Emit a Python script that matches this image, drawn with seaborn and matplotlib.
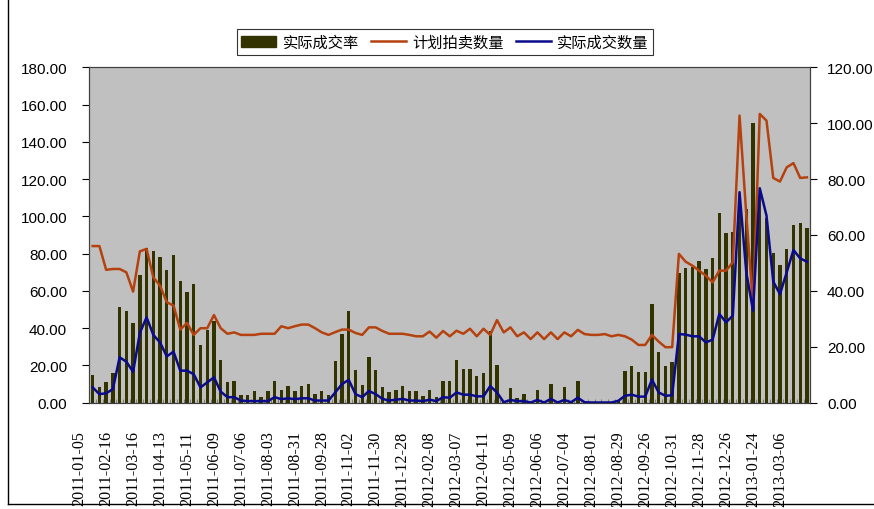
import matplotlib
matplotlib.use("Agg")
import matplotlib.pyplot as plt
import matplotlib.transforms as mtransforms
from matplotlib.lines import Line2D
from matplotlib.patches import Patch
import numpy as np
import pandas as pd
import seaborn as sns

# weekly auction sessions (category axis, one label every 4 sessions)
week_idx = list(range(107))

date_labels = [
    "2011-01-05", "2011-02-16", "2011-03-16", "2011-04-13", "2011-05-11",
    "2011-06-09", "2011-07-06", "2011-08-03", "2011-08-31", "2011-09-28",
    "2011-11-02", "2011-11-30", "2011-12-28", "2012-02-08", "2012-03-07",
    "2012-04-11", "2012-05-09", "2012-06-06", "2012-07-04", "2012-08-01",
    "2012-08-29", "2012-09-26", "2012-10-31", "2012-11-28", "2012-12-26",
    "2013-01-24", "2013-03-06",
]

# 实际成交率 (left axis)
actual_rate = [
    14.8, 8.2, 11.2, 15.8, 51.3, 49.1, 42.7, 68.5, 82.8, 81.4,
    78.1, 71.2, 79.2, 65.3, 59.3, 63.6, 30.9, 39.1, 43.8, 22.8,
    11.2, 11.5, 4.0, 4.0, 6.2, 3.0, 6.2, 11.5, 6.7, 8.9,
    6.2, 8.9, 9.9, 4.6, 6.2, 4.0, 22.3, 36.8, 49.1, 17.5,
    9.4, 24.4, 17.5, 8.3, 5.6, 6.7, 8.9, 6.2, 6.2, 3.5,
    6.7, 3.0, 11.5, 11.5, 22.8, 18.0, 18.0, 14.2, 15.8, 38.4,
    20.1, 0.5, 7.8, 2.4, 4.6, 0.3, 6.7, 0.3, 9.9, 0.3,
    8.3, 0.5, 11.5, 0.3, 0.0, 0.0, 0.0, 0.0, 1.0, 16.9,
    19.6, 16.4, 16.4, 52.9, 27.1, 19.6, 21.8, 69.6, 72.2, 72.8,
    76.0, 71.7, 77.6, 101.8, 91.0, 91.6, 110.0, 103.9, 150.1, 111.0,
    99.1, 80.3, 73.8, 82.4, 95.3, 96.4, 93.7,
]

# 计划拍卖数量 (right axis)
planned_qty = [
    56.0, 56.0, 47.5, 47.8, 47.8, 46.6, 39.7, 54.1, 55.0, 44.8,
    41.8, 35.9, 34.7, 26.1, 28.5, 24.2, 26.6, 26.6, 31.3, 26.6,
    24.6, 25.1, 24.2, 24.2, 24.2, 24.6, 24.6, 24.6, 27.3, 26.6,
    27.3, 27.9, 27.9, 26.6, 25.1, 24.2, 25.2, 26.1, 26.1, 24.9,
    24.2, 26.9, 26.9, 25.6, 24.6, 24.6, 24.6, 24.2, 23.7, 23.7,
    25.4, 23.2, 25.6, 23.7, 25.7, 24.6, 26.4, 23.7, 26.4, 24.2,
    29.5, 25.1, 26.9, 23.7, 25.1, 22.7, 25.1, 22.7, 25.1, 22.7,
    25.1, 23.7, 26.0, 24.5, 24.2, 24.2, 24.5, 23.7, 24.2, 23.7,
    22.5, 20.6, 20.6, 24.2, 21.8, 19.8, 19.8, 53.2, 50.4, 49.0,
    47.2, 45.4, 43.0, 47.2, 47.2, 50.2, 102.7, 67.3, 34.7, 103.3,
    100.9, 80.4, 79.1, 84.2, 85.7, 80.4, 80.6,
]

# 实际成交数量 (right axis)
actual_qty = [
    5.4, 3.0, 3.3, 4.8, 16.2, 14.6, 11.0, 24.9, 30.5, 24.2,
    21.5, 16.5, 18.2, 11.4, 11.4, 10.1, 5.4, 7.2, 9.0, 3.9,
    1.9, 1.9, 0.7, 0.5, 0.5, 0.5, 0.5, 1.9, 1.2, 1.5,
    1.2, 1.5, 1.5, 0.7, 0.7, 0.7, 3.6, 6.6, 8.1, 3.0,
    1.9, 4.1, 3.0, 1.3, 0.7, 1.0, 1.3, 0.7, 0.7, 0.5,
    1.0, 0.5, 1.9, 1.7, 3.6, 2.8, 2.8, 2.2, 2.2, 5.9,
    3.6, 0.1, 0.9, 0.5, 0.5, 0.0, 0.9, 0.0, 1.3, 0.0,
    0.9, 0.1, 1.7, 0.1, 0.0, 0.0, 0.0, 0.0, 0.6, 2.4,
    2.8, 2.1, 2.1, 8.2, 3.6, 2.4, 2.6, 24.5, 24.3, 23.7,
    23.7, 21.5, 22.5, 31.7, 28.7, 31.1, 75.3, 46.6, 32.9, 76.7,
    66.9, 43.3, 38.8, 46.6, 54.6, 51.6, 50.4,
]

BAR_COLOR = "#333300"
PLAN_COLOR = "#B5420E"
ACTUAL_COLOR = "#0A0A8C"

df = pd.DataFrame({
    "week": week_idx,
    "rate": actual_rate,
    "planned": planned_qty,
    "actual": actual_qty,
})

plt.rcParams["font.family"] = ["Liberation Sans", "Noto Sans CJK SC", "DejaVu Sans"]

fig = plt.figure(figsize=(8.74, 5.10), dpi=100)
ax = fig.add_axes([89.3 / 874, 1 - 403.5 / 510, 721.0 / 874, 335.2 / 510])
ax.set_facecolor("#C0C0C0")

sns.barplot(data=df, x="week", y="rate", color=BAR_COLOR, saturation=1,
            width=0.5, ax=ax, zorder=2)

ax2 = ax.twinx()
sns.lineplot(data=df, x="week", y="planned", color=PLAN_COLOR, lw=1.8, ax=ax2)
sns.lineplot(data=df, x="week", y="actual", color=ACTUAL_COLOR, lw=1.8, ax=ax2)

n = len(week_idx)
ax.set_xlim(-0.5, n - 0.5)
ax.set_ylim(0, 180)
ax2.set_ylim(0, 120)

left_ticks = np.arange(0, 181, 20)
ax.set_yticks(left_ticks)
ax.set_yticklabels([f"{v:.2f}" for v in left_ticks], fontsize=11)
right_ticks = np.arange(0, 121, 20)
ax2.set_yticks(right_ticks)
ax2.set_yticklabels([f"{v:.2f}" for v in right_ticks], fontsize=11)
ax.tick_params(axis="y", direction="out", length=5, width=0.8, pad=11)
ax2.tick_params(axis="y", direction="out", length=5, width=0.8, pad=7)

# date labels every 4 sessions, rotated
ax.set_xticks(range(0, n, 4))
ax.set_xticklabels(date_labels, rotation=90, fontfamily="Liberation Serif", fontsize=11.6)
ax.tick_params(axis="x", length=0, pad=20)
ax.set_xticks(np.arange(-0.5, n, 1), minor=True)
ax.tick_params(axis="x", which="minor", direction="in", length=3, color="#707070")
shift = mtransforms.ScaledTranslation(-2 * 721.0 / n / 100, 0, fig.dpi_scale_trans)
for lbl in ax.get_xticklabels():
    lbl.set_transform(lbl.get_transform() + shift)

for a in (ax, ax2):
    a.set_xlabel("")
    a.set_ylabel("")
    for sp in a.spines.values():
        sp.set_color("#404040")
        sp.set_linewidth(0.8)

handles = [
    Patch(facecolor=BAR_COLOR, edgecolor=BAR_COLOR),
    Line2D([], [], color=PLAN_COLOR, lw=1.8),
    Line2D([], [], color=ACTUAL_COLOR, lw=1.8),
]
labels = ["实际成交率", "计划拍卖数量", "实际成交数量"]
leg = fig.legend(handles, labels, loc="center", bbox_to_anchor=(445 / 874, 1 - 43 / 510),
                 ncol=3, frameon=True, fancybox=False, edgecolor="black",
                 prop={"family": "Noto Sans CJK SC", "size": 11},
                 handlelength=2.3, handletextpad=0.4, columnspacing=0.8,
                 borderpad=0.3)
leg.get_frame().set_linewidth(0.8)

# outer chart border
fig.add_artist(Line2D([8 / 874, 8 / 874], [1 - 505 / 510, 1.0], transform=fig.transFigure,
                      color="black", lw=1))
fig.add_artist(Line2D([8 / 874, 1.0], [1 - 505 / 510, 1 - 505 / 510], transform=fig.transFigure,
                      color="black", lw=1))

fig.savefig("out.png", dpi=100)
